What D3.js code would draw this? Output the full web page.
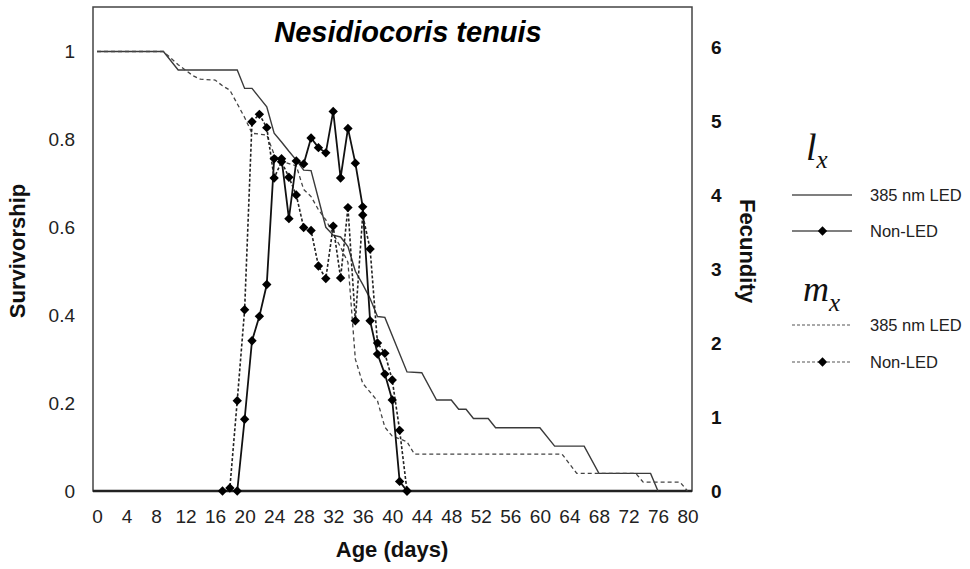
<!DOCTYPE html>
<html><head><meta charset="utf-8">
<script src="https://cdn.jsdelivr.net/npm/d3@7"></script>
<style>
html,body{margin:0;padding:0;background:#fff;}
svg{display:block;font-family:"Liberation Sans",Arial,sans-serif;}
</style></head>
<body>
<svg id="chart" width="970" height="569"></svg>
<script>
// ---- data ----
const xTicks = [0,4,8,12,16,20,24,28,32,36,40,44,48,52,56,60,64,68,72,76,80];
const survTicks = [0,0.2,0.4,0.6,0.8,1];
const fecTicks = [0,1,2,3,4,5,6];

// survivorship (lx), solid line
const lxSolidDays = [0,9,11,19,20,21,22,23,24,25,26,27,28,29,30,31,32,33,34,35,36,37,38,39,42,44,46,48,49,50,51,53,54,60,62,66,68,75,76];
const lxSolidVals = [1,1,0.958,0.958,0.916,0.916,0.895,0.874,0.814,0.794,0.773,0.753,0.73,0.729,0.665,0.6,0.582,0.578,0.556,0.5,0.47,0.438,0.397,0.395,0.271,0.269,0.207,0.207,0.186,0.186,0.165,0.165,0.144,0.144,0.102,0.102,0.04,0.04,0];

// survivorship (lx), dashed line
const lxDashedDays = [0,9,11,13,14,16,17,18,20,21,23,24,25,26,27,28,29,30,31,32,33,34,35,36,37,38,39,40,42,43,63,65,73,74,79,80];
const lxDashedVals = [1,1,0.97,0.945,0.937,0.935,0.922,0.912,0.85,0.814,0.81,0.766,0.75,0.745,0.74,0.686,0.67,0.64,0.617,0.585,0.555,0.52,0.3,0.245,0.225,0.205,0.145,0.125,0.112,0.084,0.084,0.04,0.04,0.02,0.02,0];

// fecundity (mx), solid line with diamonds
const mxSolidDays = [19,20,21,22,23,24,25,26,27,28,29,30,31,32,33,34,35,36,37,38,39,40,41,42];
const mxSolidVals = [0,0.97,2.03,2.36,2.79,4.49,4.49,3.68,4.46,4.42,4.77,4.64,4.57,5.13,4.23,4.9,4.43,3.84,2.3,1.85,1.58,1.23,0.13,0];

// fecundity (mx), dashed line with diamonds
const mxDashedDays = [17,18,19,20,21,22,23,24,25,26,27,28,29,30,31,32,33,34,35,36,37,38,39,40,41,42];
const mxDashedVals = [0,0.04,1.22,2.45,4.99,5.09,4.91,4.23,4.45,4.24,4.0,3.56,3.52,3.04,2.87,3.58,2.88,3.83,2.3,3.73,3.27,2.0,1.86,1.5,0.82,0];

const legendLabels = ["385 nm LED","Non-LED"];

// ---- chart ----
const svg = d3.select("#chart");
const x = d3.scaleLinear().domain([0,80]).range([97,687.5]);
const yS = d3.scaleLinear().domain([0,1]).range([491,51.5]);
const yF = d3.scaleLinear().domain([0,6]).range([491,47]);

const zip = (a,b) => a.map((d,i)=>[d,b[i]]);

// frame
svg.append("rect").attr("x",93).attr("y",7).attr("width",599).attr("height",484)
  .attr("fill","none").attr("stroke","#444").attr("stroke-width",1.5);

// axes
const gx = svg.append("g").attr("transform","translate(0,491)")
  .call(d3.axisBottom(x).tickValues(xTicks).tickSize(0).tickPadding(19).tickFormat(d3.format("d")));
gx.select(".domain").remove();
gx.selectAll("text").attr("font-size",19).attr("fill","#222").attr("font-family","Liberation Sans, Arial, sans-serif");

const gl = svg.append("g").attr("transform","translate(93,0)")
  .call(d3.axisLeft(yS).tickValues(survTicks).tickSize(0).tickPadding(18)
    .tickFormat(d => (d===0||d===1) ? String(d) : d.toFixed(1)));
gl.select(".domain").remove();
gl.selectAll("text").attr("font-size",19).attr("fill","#222").attr("font-family","Liberation Sans, Arial, sans-serif");

const gr = svg.append("g").attr("transform","translate(692,0)")
  .call(d3.axisRight(yF).tickValues(fecTicks).tickSize(0).tickPadding(19).tickFormat(d3.format("d")));
gr.select(".domain").remove();
gr.selectAll("text").attr("font-size",19).attr("font-weight","bold").attr("fill","#111").attr("font-family","Liberation Sans, Arial, sans-serif");

// bottom axis line
svg.append("line").attr("x1",93).attr("x2",692).attr("y1",491).attr("y2",491)
  .attr("stroke","#222").attr("stroke-width",2.5);

const lineS = d3.line().x(d=>x(d[0])).y(d=>yS(d[1]));
const lineF = d3.line().x(d=>x(d[0])).y(d=>yF(d[1]));

svg.append("path").datum(zip(lxSolidDays,lxSolidVals)).attr("d",lineS)
  .attr("fill","none").attr("stroke","#3a3a3a").attr("stroke-width",1.4);
svg.append("path").datum(zip(lxDashedDays,lxDashedVals)).attr("d",lineS)
  .attr("fill","none").attr("stroke","#444").attr("stroke-width",1.3).attr("stroke-dasharray","4,3");

svg.append("path").datum(zip(mxSolidDays,mxSolidVals)).attr("d",lineF)
  .attr("fill","none").attr("stroke","#111").attr("stroke-width",1.8);
svg.append("path").datum(zip(mxDashedDays,mxDashedVals)).attr("d",lineF)
  .attr("fill","none").attr("stroke","#222").attr("stroke-width",1.6).attr("stroke-dasharray","3,2");

const diamond = d3.symbol().type(d3.symbolSquare).size(44);
function diamonds(data){
  svg.append("g").selectAll("path").data(data).join("path")
    .attr("d",diamond)
    .attr("transform",d=>`translate(${x(d[0])},${yF(d[1])}) rotate(45)`)
    .attr("fill","#000");
}
diamonds(zip(mxSolidDays,mxSolidVals));
diamonds(zip(mxDashedDays,mxDashedVals));

// title
svg.append("text").attr("x",408).attr("y",42).attr("text-anchor","middle")
  .attr("font-size",29).attr("font-weight","bold").attr("font-style","italic").attr("fill","#000")
  .text("Nesidiocoris tenuis");

// axis titles
svg.append("text").attr("transform","translate(25,251) rotate(-90)").attr("text-anchor","middle")
  .attr("font-size",22).attr("font-weight","bold").attr("fill","#111").text("Survivorship");
svg.append("text").attr("transform","translate(740,251) rotate(90)").attr("text-anchor","middle")
  .attr("font-size",22).attr("font-weight","bold").attr("fill","#111").text("Fecundity");
svg.append("text").attr("x",392).attr("y",557).attr("text-anchor","middle")
  .attr("font-size",22).attr("font-weight","bold").attr("fill","#111").text("Age (days)");

// legend
const serif = "Liberation Serif, Times New Roman, serif";
const lx = svg.append("text").attr("x",806).attr("y",160).attr("font-family",serif).attr("font-style","italic").attr("font-size",38).attr("fill","#111");
lx.append("tspan").text("l");
lx.append("tspan").attr("font-size",25).attr("dy",8).text("x");
const mx = svg.append("text").attr("x",803).attr("y",301).attr("font-family",serif).attr("font-style","italic").attr("font-size",36).attr("fill","#111");
mx.append("tspan").text("m");
mx.append("tspan").attr("font-size",25).attr("dy",10).text("x");

const legendRows = [
  {y:195, dash:null, marker:false, label:legendLabels[0]},
  {y:231, dash:null, marker:true, label:legendLabels[1]},
  {y:325, dash:"3,2", marker:false, label:legendLabels[0]},
  {y:362, dash:"3,2", marker:true, label:legendLabels[1]}
];
legendRows.forEach(r=>{
  const l = svg.append("line").attr("x1",792).attr("x2",852).attr("y1",r.y).attr("y2",r.y)
    .attr("stroke","#555").attr("stroke-width",r.dash?1.2:1.5);
  if(r.dash) l.attr("stroke-dasharray",r.dash);
  if(r.marker) svg.append("path").attr("d",diamond).attr("transform",`translate(822.5,${r.y}) rotate(45)`).attr("fill","#000");
  svg.append("text").attr("x",870).attr("y",r.y).attr("dy","0.35em").attr("font-size",16.5).attr("fill","#222").text(r.label);
});
</script>
</body></html>
